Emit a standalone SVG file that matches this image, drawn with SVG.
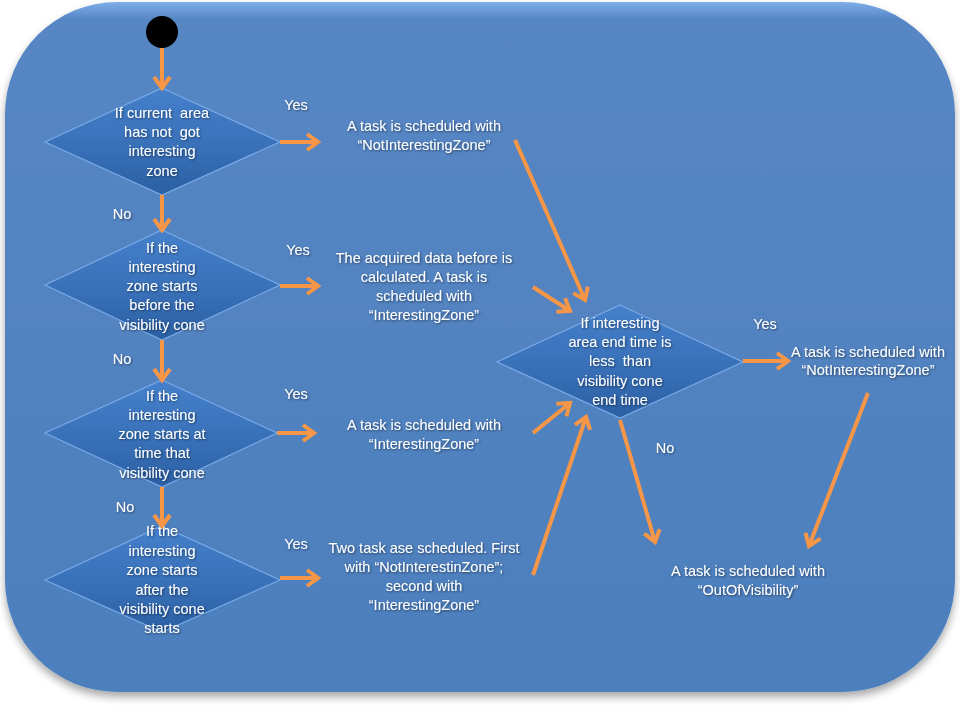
<svg xmlns="http://www.w3.org/2000/svg" width="960" height="720" viewBox="0 0 960 720">
<defs>
  <linearGradient id="bg" x1="0" y1="0" x2="0" y2="1">
    <stop offset="0" stop-color="#7eaee9"/>
    <stop offset="0.025" stop-color="#5686c4"/>
    <stop offset="1" stop-color="#4d7fbd"/>
  </linearGradient>
  <linearGradient id="dia" x1="0" y1="0" x2="0" y2="1">
    <stop offset="0" stop-color="#4580cb"/>
    <stop offset="0.5" stop-color="#3a72ba"/>
    <stop offset="1" stop-color="#2b5fa3"/>
  </linearGradient>
  <filter id="sh" x="-5%" y="-5%" width="110%" height="115%">
    <feGaussianBlur in="SourceAlpha" stdDeviation="4"/>
    <feOffset dy="5"/>
    <feComponentTransfer><feFuncA type="linear" slope="0.35"/></feComponentTransfer>
    <feMerge><feMergeNode/><feMergeNode in="SourceGraphic"/></feMerge>
  </filter>
  <filter id="tsh" x="-10%" y="-10%" width="120%" height="140%">
    <feGaussianBlur in="SourceAlpha" stdDeviation="1"/>
    <feOffset dx="1" dy="1"/>
    <feComponentTransfer><feFuncA type="linear" slope="0.5"/></feComponentTransfer>
    <feMerge><feMergeNode/><feMergeNode in="SourceGraphic"/></feMerge>
  </filter>
  <marker id="ah" markerUnits="userSpaceOnUse" markerWidth="20" markerHeight="22" refX="13" refY="10" orient="auto">
    <path d="M2,2 L13,10 L2,18" fill="none" stroke="#f79646" stroke-width="4" stroke-linejoin="miter"/>
  </marker>
</defs>
<style>
  text { font-family: "Liberation Sans", Arial, sans-serif; font-size: 14.5px; fill: #ffffff; text-anchor: middle; white-space: pre; }
  .d { fill: url(#dia); stroke: #78aae8; stroke-width: 1.2; }
  .c line { stroke: #f79646; stroke-width: 4; marker-end: url(#ah); }
  .t { filter: url(#tsh); }
</style>

<rect id="background" x="5" y="2" width="950" height="690" rx="112" ry="112" fill="url(#bg)" filter="url(#sh)"/>

<g id="start"><circle cx="162" cy="32" r="16" fill="#000000"/></g>

<g id="d1"><polygon class="d" points="162,88 280,142 162,195 45,142"/>
  <g class="t"><text x="162" y="118">If current  area</text><text x="162" y="137">has not  got</text><text x="162" y="156">interesting</text><text x="162" y="176">zone</text></g></g>

<g id="d2"><polygon class="d" points="162,230 280,285 162,340 45,285"/>
  <g class="t"><text x="162" y="253">If the</text><text x="162" y="272">interesting</text><text x="162" y="291">zone starts</text><text x="162" y="310">before the</text><text x="162" y="330">visibility cone</text></g></g>

<g id="d3"><polygon class="d" points="162,380 277,433 162,487 45,433"/>
  <g class="t"><text x="162" y="401">If the</text><text x="162" y="420">interesting</text><text x="162" y="439">zone starts at</text><text x="162" y="458">time that</text><text x="162" y="478">visibility cone</text></g></g>

<g id="d4"><polygon class="d" points="162,526 280,580 162,632 45,580"/>
  <g class="t"><text x="162" y="536">If the</text><text x="162" y="556">interesting</text><text x="162" y="575">zone starts</text><text x="162" y="595">after the</text><text x="162" y="614">visibility cone</text><text x="162" y="633">starts</text></g></g>

<g id="d5"><polygon class="d" points="620,305 743,362 620,418 497,362"/>
  <g class="t"><text x="620" y="328">If interesting</text><text x="620" y="347">area end time is</text><text x="620" y="366">less  than</text><text x="620" y="386">visibility cone</text><text x="620" y="405">end time</text></g></g>

<g id="box1" class="t"><text x="424" y="131">A task is scheduled with</text><text x="424" y="150">“NotInterestingZone”</text></g>
<g id="box2" class="t"><text x="424" y="263">The acquired data before is</text><text x="424" y="282">calculated. A task is</text><text x="424" y="301">scheduled with</text><text x="424" y="320">“InterestingZone”</text></g>
<g id="box3" class="t"><text x="424" y="430">A task is scheduled with</text><text x="424" y="449">“InterestingZone”</text></g>
<g id="box4" class="t"><text x="424" y="553">Two task ase scheduled. First</text><text x="424" y="572">with “NotInterestinZone”;</text><text x="424" y="591">second with</text><text x="424" y="610">“InterestingZone”</text></g>
<g id="box5" class="t"><text x="868" y="357">A task is scheduled with</text><text x="868" y="375">“NotInterestingZone”</text></g>
<g id="box6" class="t"><text x="748" y="576">A task is scheduled with</text><text x="748" y="595">“OutOfVisibility”</text></g>

<g id="connectors" class="c">
  <line x1="162" y1="48" x2="162" y2="88"/>
  <line x1="162" y1="195" x2="162" y2="230"/>
  <line x1="162" y1="340" x2="162" y2="380"/>
  <line x1="162" y1="487" x2="162" y2="526"/>
  <line x1="280" y1="142" x2="318" y2="142"/>
  <line x1="280" y1="286" x2="318" y2="286"/>
  <line x1="277" y1="433" x2="314" y2="433"/>
  <line x1="280" y1="578" x2="318" y2="578"/>
  <line x1="515" y1="140" x2="585" y2="300"/>
  <line x1="533" y1="287" x2="570" y2="311"/>
  <line x1="533" y1="433" x2="570" y2="403"/>
  <line x1="533" y1="575" x2="586" y2="417"/>
  <line x1="743" y1="361" x2="788" y2="361"/>
  <line x1="868" y1="393" x2="809" y2="546"/>
  <line x1="620" y1="420" x2="655" y2="542"/>
</g>

<g id="labels" class="t">
  <text x="296" y="110">Yes</text>
  <text x="298" y="255">Yes</text>
  <text x="296" y="399">Yes</text>
  <text x="296" y="549">Yes</text>
  <text x="765" y="329">Yes</text>
  <text x="122" y="219">No</text>
  <text x="122" y="364">No</text>
  <text x="125" y="512">No</text>
  <text x="665" y="453">No</text>
</g>
</svg>
